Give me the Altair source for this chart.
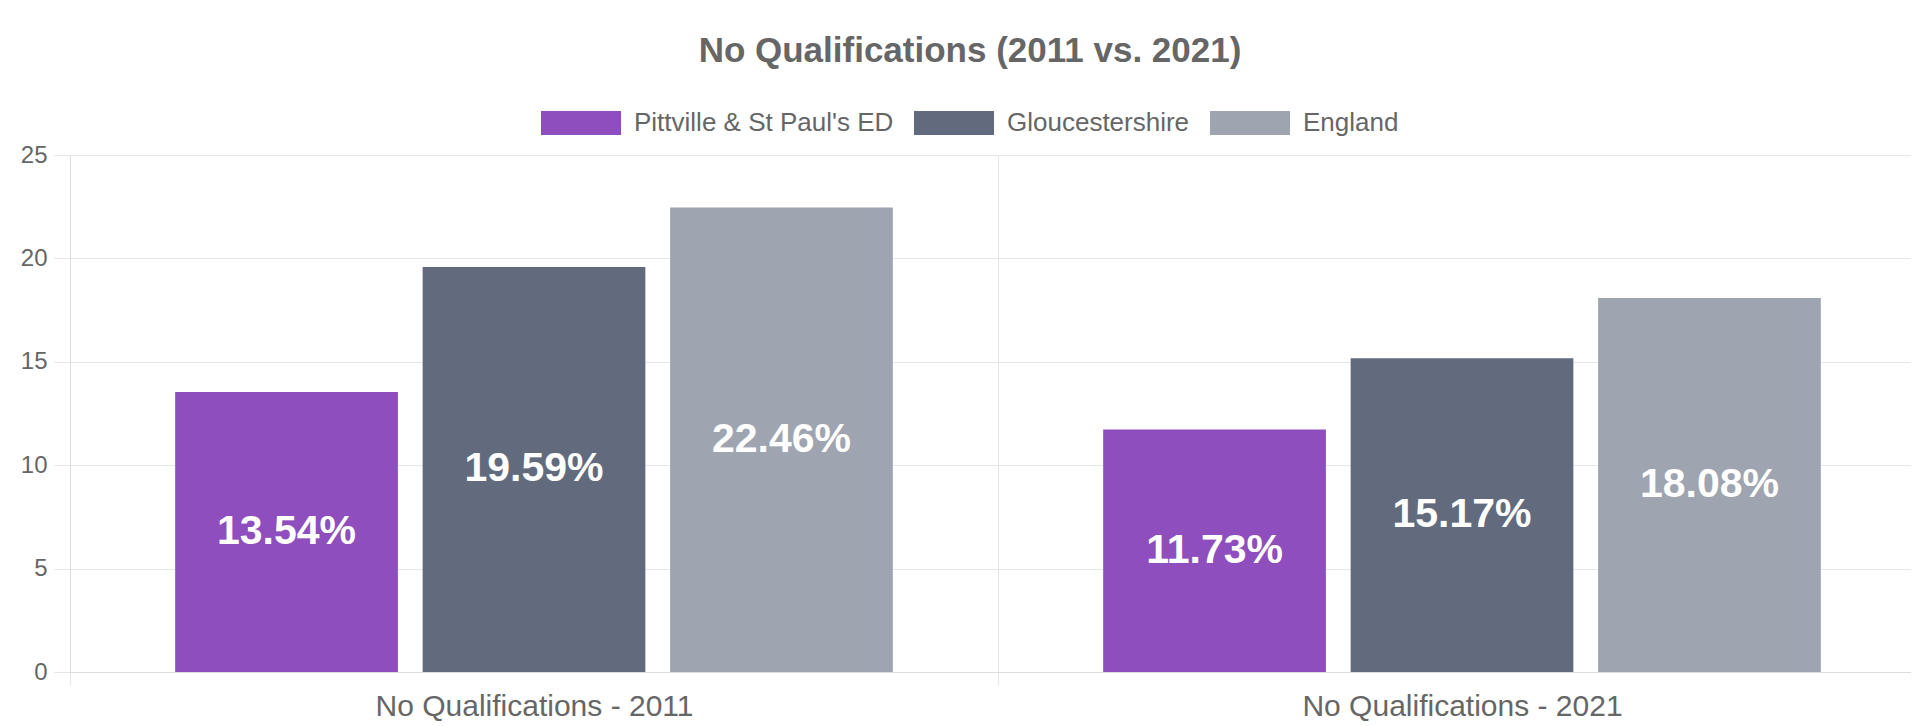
import altair as alt
import pandas as pd

# ---- data ----
categories = ["No Qualifications - 2011", "No Qualifications - 2021"]
series = ["Pittville & St Paul's ED", "Gloucestershire", "England"]
values_2011 = [13.54, 19.59, 22.46]
values_2021 = [11.73, 15.17, 18.08]
colors = ["#8E4EBD", "#616B7D", "#9EA4B0"]
y_ticks = [0, 5, 10, 15, 20, 25]

rows = []
for cat, vals in zip(categories, [values_2011, values_2021]):
    for s, v in zip(series, vals):
        rows.append({"category": cat, "series": s, "value": v})
df = pd.DataFrame(rows)

FONT = "Liberation Sans"
GRID = "#e6e6e6"
TXT = "#666666"

x_axis = alt.Axis(labelAngle=0, tickBand="extent", grid=True, gridColor=GRID,
                  tickColor=GRID, tickSize=13, domainColor="#dcdcdc",
                  labelFontSize=30, labelColor=TXT, labelFont=FONT, labelPadding=6,
                  labelLimit=0)
x_scale = alt.Scale(paddingInner=0, paddingOuter=0)
xo_scale = alt.Scale(paddingInner=0.1, paddingOuter=0.425)
y_axis = alt.Axis(values=y_ticks, gridColor=GRID, tickColor=GRID, tickSize=16,
                  domainColor="#dcdcdc", labelFontSize=24, labelColor=TXT,
                  labelFont=FONT, labelPadding=7)
y_scale = alt.Scale(domain=[0, 25], nice=False)

legend = alt.Legend(orient="none", legendX=471, legendY=-72, direction="horizontal",
                    title=None, symbolType="M-1,-0.3H1V0.3H-1Z", symbolSize=6400,
                    symbolStrokeWidth=0, symbolOpacity=1, labelFontSize=26,
                    labelColor=TXT, labelFont=FONT, labelOffset=13,
                    columnPadding=20, labelLimit=1000, padding=0)

bars = alt.Chart(df).mark_bar().encode(
    x=alt.X("category:N", sort=categories, title=None, scale=x_scale, axis=x_axis),
    xOffset=alt.XOffset("series:N", sort=series, scale=xo_scale),
    y=alt.Y("value:Q", title=None, scale=y_scale, axis=y_axis),
    color=alt.Color("series:N", sort=series,
                    scale=alt.Scale(domain=series, range=colors), legend=legend),
)

labels = alt.Chart(df).transform_calculate(
    mid="datum.value / 2",
    label="format(datum.value, '.2f') + '%'",
).mark_text(font=FONT, fontSize=41, fontWeight="bold", color="white",
            baseline="middle").encode(
    x=alt.X("category:N", sort=categories, title=None, scale=x_scale, axis=x_axis),
    xOffset=alt.XOffset("series:N", sort=series, scale=xo_scale),
    y=alt.Y("mid:Q", title=None, scale=y_scale, axis=y_axis),
    text="label:N",
)

chart = alt.layer(bars, labels).properties(
    width=1856,
    height=517,
    autosize=alt.AutoSizeParams(type="none"),
    padding={"left": 62, "top": 147, "right": -15, "bottom": 54},
    background="white",
    title=alt.TitleParams("No Qualifications (2011 vs. 2021)", font=FONT,
                          fontSize=35, fontWeight="bold", color=TXT,
                          anchor="middle", dx=-28, offset=14),
).configure_view(stroke=None)

chart.save("out.html", embed_options={"renderer": "svg", "actions": False})
